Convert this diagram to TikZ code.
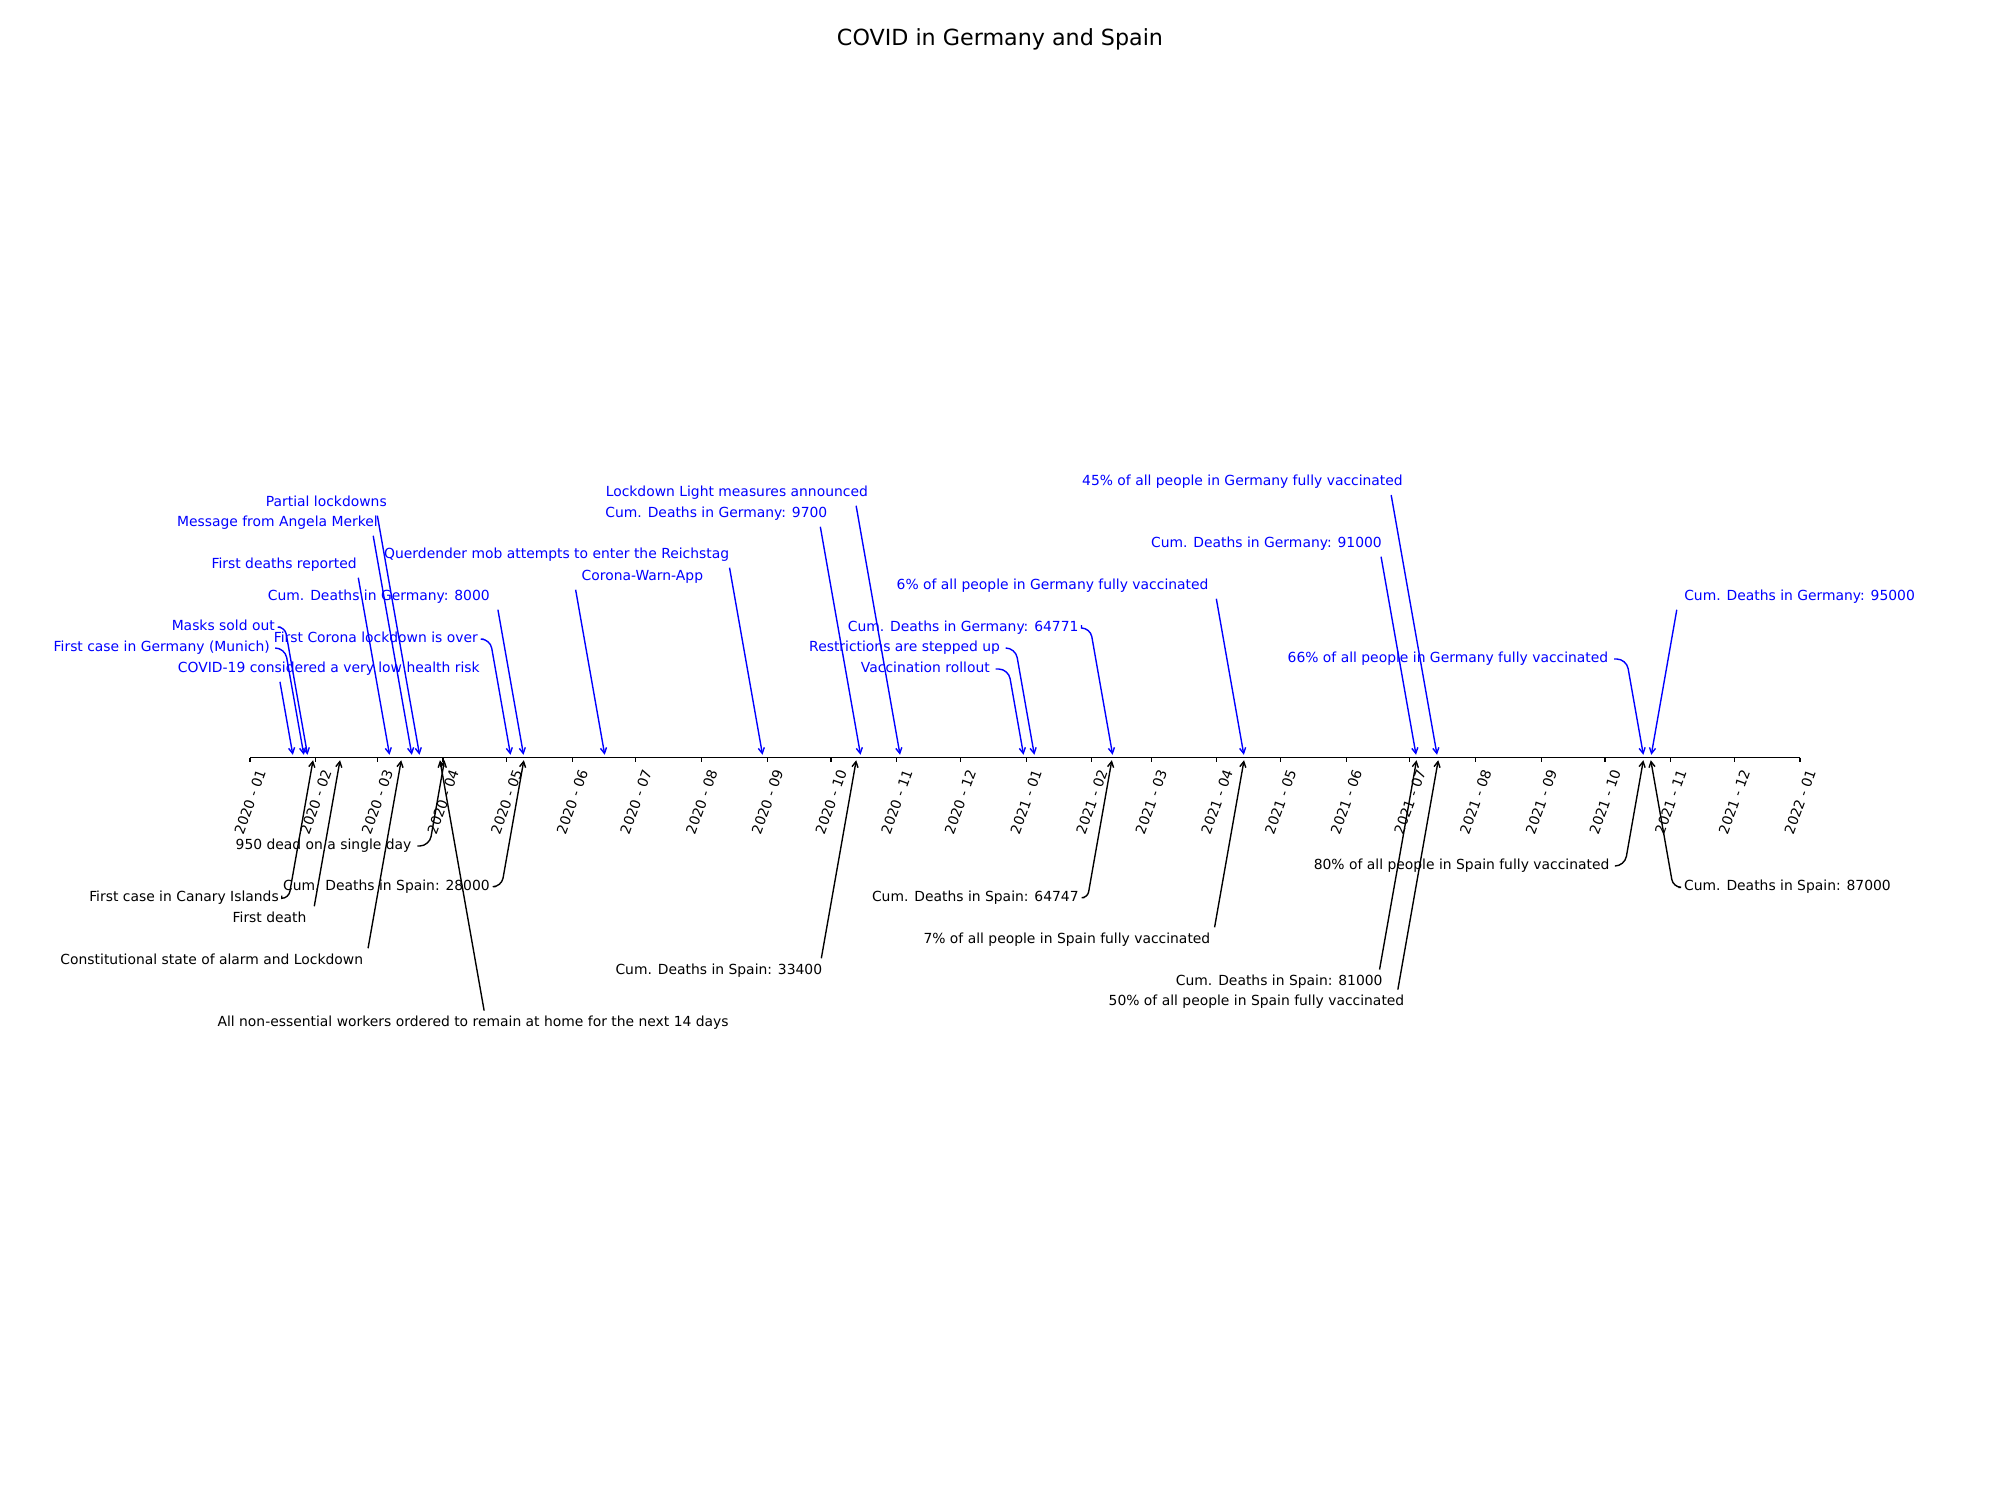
\documentclass[tikz,border=0pt]{standalone}
\usepackage{fontspec}
\setmainfont{DejaVu Sans}
\usetikzlibrary{arrows.meta}
\definecolor{evblue}{RGB}{0,0,255}
\tikzset{
  lbl/.style={font=\fontsize{10bp}{12bp}\selectfont, inner xsep=2bp, inner ysep=2bp, text height=7.6bp, text depth=2.4bp},
  con/.style={line width=1bp, -{Straight Barb[length=4bp,width=4.4bp]}, shorten <=2bp, shorten >=2bp},
  axisln/.style={line width=0.8bp, black},
  tickln/.style={line width=0.8bp, black},
  ticklbl/.style={font=\fontsize{10bp}{12bp}\selectfont, inner sep=0pt, rotate=70, anchor=center},
  titlelbl/.style={font=\fontsize{16bp}{19bp}\selectfont, inner sep=0pt}
}
% text left of its connector (node anchored east at #2)
\newcommand\evL[5]{%
  \pgfmathsetmacro\evdy{abs(#3-757.5)}%
  \pgfmathsetmacro\evcx{#4-\evdy*0.1763}%
  \pgfmathsetmacro\evgap{\evcx-#2}%
  \pgfmathsetlengthmacro\evr{min(7bp,\evgap*0.72bp)}%
  \pgfmathtruncatemacro\evabove{(#3<757.5)?1:0}%
  \pgfmathtruncatemacro\evout{(\evgap>3)?1:0}%
  \ifnum\evabove=1\def\evcol{evblue}\else\def\evcol{black}\fi
  \node[lbl,text=\evcol,anchor=east] (#1) at (#2,#3) {#5};%
  \coordinate (#1t) at (#4,757.5);%
  \coordinate (#1c) at (\evcx,#3);%
  \ifnum\evout=1
    \draw[con,draw=\evcol,rounded corners=\evr] (#1.east) -- (#1c) -- (#1t);%
  \else
    \ifnum\evabove=1
      \draw[con,draw=\evcol] (intersection of #1c--#1t and #1.south west--#1.south east) -- (#1t);%
    \else
      \draw[con,draw=\evcol] (intersection of #1c--#1t and #1.north west--#1.north east) -- (#1t);%
    \fi
  \fi
}
% text right of its connector (node anchored west at #2)
\newcommand\evR[5]{%
  \pgfmathsetmacro\evdy{abs(#3-757.5)}%
  \pgfmathsetmacro\evcx{#4+\evdy*0.1763}%
  \pgfmathsetmacro\evgap{#2-\evcx}%
  \pgfmathsetlengthmacro\evr{min(7bp,\evgap*0.72bp)}%
  \pgfmathtruncatemacro\evabove{(#3<757.5)?1:0}%
  \pgfmathtruncatemacro\evout{(\evgap>3)?1:0}%
  \ifnum\evabove=1\def\evcol{evblue}\else\def\evcol{black}\fi
  \node[lbl,text=\evcol,anchor=west] (#1) at (#2,#3) {#5};%
  \coordinate (#1t) at (#4,757.5);%
  \coordinate (#1c) at (\evcx,#3);%
  \ifnum\evout=1
    \draw[con,draw=\evcol,rounded corners=\evr] (#1.west) -- (#1c) -- (#1t);%
  \else
    \ifnum\evabove=1
      \draw[con,draw=\evcol] (intersection of #1c--#1t and #1.south west--#1.south east) -- (#1t);%
    \else
      \draw[con,draw=\evcol] (intersection of #1c--#1t and #1.north west--#1.north east) -- (#1t);%
    \fi
  \fi
}
\begin{document}
\begin{tikzpicture}[x=0.72bp,y=-0.72bp]
\useasboundingbox (0,0) rectangle (2000,1500);
\node[titlelbl] (title) at (1000,39) {COVID in Germany and Spain};
% axis
\coordinate (ax0) at (250,757.5);
\coordinate (ax1) at (1800,757.5);
\draw[axisln] (ax0) -- (ax1);
\foreach \d/\lab [count=\i] in {0/2020 - 01,31/2020 - 02,60/2020 - 03,91/2020 - 04,121/2020 - 05,152/2020 - 06,182/2020 - 07,213/2020 - 08,244/2020 - 09,274/2020 - 10,305/2020 - 11,335/2020 - 12,366/2021 - 01,397/2021 - 02,425/2021 - 03,456/2021 - 04,486/2021 - 05,517/2021 - 06,547/2021 - 07,578/2021 - 08,609/2021 - 09,639/2021 - 10,670/2021 - 11,700/2021 - 12,731/2022 - 01}{
  \coordinate (tk\i) at ({250+\d*2.12038},757.5);
  \draw[tickln] (tk\i) -- ++(0,4.9);
  \node[ticklbl] (tl\i) at ({250+\d*2.12038},802) {\lab};
}
% Germany (blue, above)
\evL{b1}{482.8}{669}{293.3}{COVID-19 considered a very low health risk}
\evL{b2}{272.8}{648}{304.3}{First case in Germany (Munich)}
\evL{b3}{277.8}{627}{308}{Masks sold out}
\evL{b4}{359.8}{565}{390}{First deaths reported}
\evL{b5}{380.8}{523}{412.3}{Message from Angela Merkel}
\evL{b6}{389.8}{503}{420}{Partial lockdowns}
\evL{b7}{480.8}{639}{511}{First Corona lockdown is over}
\evL{b8}{492.8}{597}{524}{Cum. Deaths in Germany: 8000}
\evL{b9}{706.1}{577}{605.2}{Corona-Warn-App}
\evL{b10}{732.2}{555}{763}{Querdender mob attempts to enter the Reichstag}
\evL{b11}{830.3}{514}{861}{Cum. Deaths in Germany: 9700}
\evL{b12}{870.9}{493}{900.5}{Lockdown Light measures announced}
\evL{b13}{992.8}{669}{1024}{Vaccination rollout}
\evL{b14}{1003.1}{648}{1034.8}{Restrictions are stepped up}
\evL{b15}{1081.5}{628}{1113.1}{Cum. Deaths in Germany: 64771}
\evL{b16}{1211.5}{586}{1244.3}{6\% of all people in Germany fully vaccinated}
\evL{b17}{1384.8}{544}{1416.5}{Cum. Deaths in Germany: 91000}
\evL{b18}{1405.8}{482.3}{1437.5}{45\% of all people in Germany fully vaccinated}
\evL{b19}{1611.3}{659}{1643.8}{66\% of all people in Germany fully vaccinated}
\evR{b20}{1681.2}{597}{1650.8}{Cum. Deaths in Germany: 95000}
% Spain (black, below)
\evL{k1}{281.8}{898.3}{313.5}{First case in Canary Islands}
\evL{k2}{309.5}{919}{340.5}{First death}
\evL{k3}{366.1}{961}{401.7}{Constitutional state of alarm and Lockdown}
\evL{k4}{414.5}{846}{445}{950 dead on a single day}
\evL{k5}{492.8}{886.7}{524.3}{Cum. Deaths in Spain: 28000}
\evR{k6}{214.5}{1023.3}{439.5}{All non-essential workers ordered to remain at home for the next 14 days}
\evL{k7}{825.2}{971}{856.7}{Cum. Deaths in Spain: 33400}
\evL{k8}{1081.7}{897.7}{1112.3}{Cum. Deaths in Spain: 64747}
\evL{k9}{1213.3}{940}{1244.5}{7\% of all people in Spain fully vaccinated}
\evL{k10}{1385.6}{982.3}{1417}{Cum. Deaths in Spain: 81000}
\evL{k11}{1407.3}{1002.3}{1438.7}{50\% of all people in Spain fully vaccinated}
\evL{k12}{1612.4}{866}{1643.8}{80\% of all people in Spain fully vaccinated}
\evR{k13}{1681.1}{887.3}{1650.3}{Cum. Deaths in Spain: 87000}
\end{tikzpicture}
\end{document}
